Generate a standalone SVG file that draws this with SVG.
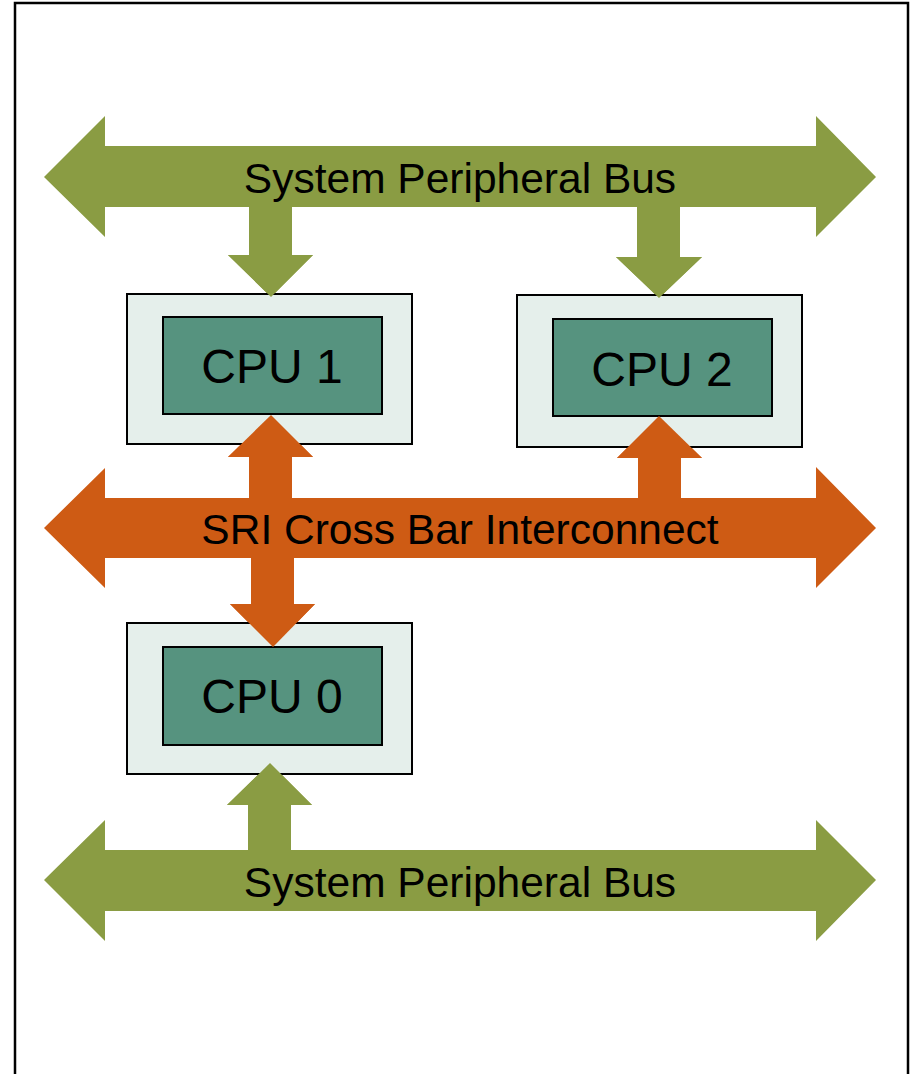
<svg xmlns="http://www.w3.org/2000/svg" width="912" height="1074" viewBox="0 0 912 1074">
<style>
.frame{fill:#fff;stroke:#000;stroke-width:2.5}
.green{fill:#8A9C43}
.orange{fill:#CE5B14}
.outer{fill:#E5EFEB;stroke:#000;stroke-width:2}
.inner{fill:#56937F;stroke:#000;stroke-width:2}
.bus{font-family:"Liberation Sans",Arial,sans-serif;font-size:42.5px;fill:#000;text-anchor:middle}
.cpu{font-family:"Liberation Sans",Arial,sans-serif;font-size:48px;fill:#000;text-anchor:middle}
</style>
<rect class="frame" x="15" y="3" width="893" height="1090"/>
<g id="connectors">
  <polygon class="green" points="249,206 292,206 292,255 313,255 271,297 228,255 249,255"/>
  <polygon class="green" points="637,206 680,206 680,257 702,257 659,298 616,257 637,257"/>
  <polygon class="orange" points="249,499 249,457 228,457 271,415 313,457 292,457 292,499"/>
  <polygon class="orange" points="638,499 638,458 617,458 659,416 702,458 681,458 681,499"/>
  <polygon class="orange" points="251,557 294,557 294,604 315,604 273,647 230,604 251,604"/>
  <polygon class="green" points="248,851 248,805 227,805 270,763 312,805 291,805 291,851"/>
</g>
<g id="bus-top">
  <polygon class="green" points="44,177 105,116 105,146 816,146 816,116 876,177 816,237 816,207 105,207 105,237"/>
  <text class="bus" x="460" y="193">System Peripheral Bus</text>
</g>
<g id="bus-sri">
  <polygon class="orange" points="44,528 105,468 105,498 816,498 816,467 876,528 816,588 816,558 105,558 105,588"/>
  <text class="bus" x="460" y="544">SRI Cross Bar Interconnect</text>
</g>
<g id="bus-bottom">
  <polygon class="green" points="44,880 105,820 105,850 816,850 816,820 876,880 816,941 816,911 105,911 105,941"/>
  <text class="bus" x="460" y="897">System Peripheral Bus</text>
</g>
<g id="cpu1">
  <rect class="outer" x="127" y="294" width="285" height="150"/>
  <rect class="inner" x="163" y="317" width="219" height="97"/>
  <text class="cpu" x="272" y="383">CPU 1</text>
</g>
<g id="cpu2">
  <rect class="outer" x="517" y="295" width="285" height="152"/>
  <rect class="inner" x="553" y="319" width="219" height="97"/>
  <text class="cpu" x="662" y="386">CPU 2</text>
</g>
<g id="cpu0">
  <rect class="outer" x="127" y="623" width="285" height="151"/>
  <rect class="inner" x="163" y="647" width="219" height="98"/>
  <text class="cpu" x="272" y="713">CPU 0</text>
</g>
<g id="overlay-arrows">
  <polygon class="green" points="228,255 313,255 271,297"/>
  <polygon class="green" points="616,257 702,257 659,298"/>
  <polygon class="orange" points="228,457 271,415 313,457"/>
  <polygon class="orange" points="617,458 659,416 702,458"/>
  <polygon class="orange" points="230,604 315,604 273,647"/>
  <polygon class="green" points="227,805 270,763 312,805"/>
</g>
</svg>
